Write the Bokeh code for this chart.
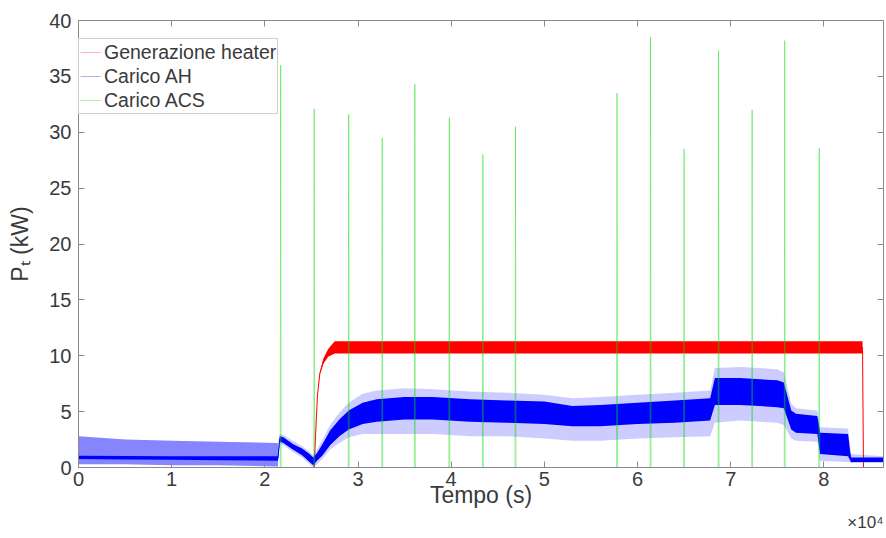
from bokeh.plotting import figure
from bokeh.models import (LinearAxis, FixedTicker, Legend, LegendItem, Title,
                          Range1d, ColumnDataSource, CustomJSTickFormatter)
from bokeh.embed import file_html
from bokeh.resources import INLINE

# ---------------- data ----------------
x_ticks = [0, 10000, 20000, 30000, 40000, 50000, 60000, 70000, 80000]
x_tick_labels = ["0", "1", "2", "3", "4", "5", "6", "7", "8"]
y_ticks = [0, 5, 10, 15, 20, 25, 30, 35, 40]
t_end = 86400

# Generazione heater (red): noise envelope
heater_t = [0, 25150, 25300, 25450, 25650, 25900, 26300, 26800, 27500, 84150, 84250, 86400]
heater_lo = [0, 0, 0, 3.0, 6.5, 8.3, 9.3, 9.9, 10.2, 10.2, 0, 0]
heater_hi = [0, 0, 0, 3.0, 6.5, 8.5, 9.8, 10.6, 11.3, 11.3, 0, 0]

# Carico AH (blue): dense core band and sparse fringe band
ah_t = [0, 5000, 10000, 15000, 21400, 21600, 22000, 23000, 24000, 24800, 25200,
        25600, 26200, 27000, 28000, 29000, 30500, 32000, 35000, 38000, 42000,
        46000, 50000, 53000, 56000, 60000, 64000, 67800, 68300, 71000, 75000,
        75700, 76500, 77000, 79300, 79600, 82600, 82900, 86400]
ah_core_lo = [0.75, 0.72, 0.70, 0.65, 0.60, 2.3, 2.2, 1.6, 1.1, 0.5, 0.2,
              0.6, 1.1, 2.0, 2.8, 3.4, 3.9, 4.1, 4.3, 4.3, 4.1,
              4.0, 3.9, 3.7, 3.7, 3.9, 4.0, 4.2, 5.6, 5.6, 5.4,
              5.3, 3.4, 3.1, 3.0, 1.2, 1.0, 0.5, 0.5]
ah_core_hi = [1.05, 1.02, 1.00, 1.00, 1.00, 2.8, 2.7, 2.1, 1.7, 1.2, 0.9,
              1.3, 2.1, 3.3, 4.3, 5.1, 5.8, 6.1, 6.3, 6.3, 6.1,
              6.0, 5.9, 5.5, 5.6, 5.8, 6.0, 6.2, 8.0, 8.0, 7.8,
              7.6, 5.1, 4.8, 4.6, 3.1, 3.0, 0.9, 0.9]
ah_fringe_lo = [0.3, 0.3, 0.2, 0.2, 0.1, 2.1, 2.0, 1.4, 0.9, 0.3, 0.0,
                0.3, 0.8, 1.6, 2.2, 2.7, 3.0, 3.0, 3.0, 3.0, 2.8,
                2.8, 2.6, 2.4, 2.4, 2.6, 2.7, 2.8, 4.0, 4.2, 4.0,
                3.8, 2.6, 2.4, 2.3, 0.6, 0.5, 0.4, 0.4]
ah_fringe_hi = [2.8, 2.5, 2.4, 2.3, 2.2, 3.0, 2.9, 2.4, 1.9, 1.4, 1.1,
                1.6, 2.5, 3.8, 4.9, 5.8, 6.6, 6.9, 7.1, 7.0, 6.8,
                6.7, 6.5, 6.2, 6.3, 6.5, 6.7, 6.9, 8.9, 9.0, 8.8,
                8.5, 5.7, 5.3, 5.1, 3.6, 3.5, 1.2, 1.0]
ah_dense_end = 21400  # dense ripple before the first draw

# Carico ACS (green): hourly draw peaks
acs_t = [21700, 25300, 29000, 32600, 36100, 39800, 43400, 46900,
         57800, 61400, 65000, 68700, 72300, 75800, 79500]
acs_peak = [36.0, 32.1, 31.6, 29.5, 34.3, 31.3, 28.0, 30.5,
            33.5, 38.5, 28.5, 37.3, 32.0, 38.2, 28.6]

series_names = ["Generazione heater", "Carico AH", "Carico ACS"]

# ---------------- derived series ----------------
heater_mid = [(a + b) / 2 for a, b in zip(heater_lo, heater_hi)]
ah_mid = [(a + b) / 2 for a, b in zip(ah_core_lo, ah_core_hi)]
nd = ah_t.index(ah_dense_end) + 1
acs_x, acs_y = [0], [0]
for t, pk in zip(acs_t, acs_peak):
    acs_x += [t - 50, t, t + 50]
    acs_y += [0, pk, 0]
acs_x.append(t_end)
acs_y.append(0)

FONT = "Liberation Sans"
AX_COL = "#8a8a8a"
TXT_COL = "#3a3a3a"

p = figure(width=886, height=538, x_range=Range1d(0, t_end), y_range=Range1d(0, 40),
           output_backend="svg", toolbar_location=None,
           min_border_left=78, min_border_right=3, min_border_top=20, min_border_bottom=71,
           background_fill_color="white", border_fill_color="white")
p.grid.visible = False
p.outline_line_color = None

# red heater
p.varea(x=heater_t, y1=heater_lo, y2=heater_hi, fill_color="#ff0000")
p.line(heater_t, heater_mid, line_color="#ff0000", line_width=1)
# blue AH
p.varea(x=ah_t, y1=ah_fringe_lo, y2=ah_fringe_hi, fill_color="#0000ff", fill_alpha=0.2)
p.varea(x=ah_t[:nd], y1=ah_fringe_lo[:nd], y2=ah_fringe_hi[:nd], fill_color="#0000ff", fill_alpha=0.35)
p.varea(x=ah_t, y1=ah_core_lo, y2=ah_core_hi, fill_color="#0000ff")
p.line(ah_t, ah_mid, line_color="#0000ff", line_width=1)
# green ACS
p.line(acs_x, acs_y, line_color="#00dd00", line_alpha=0.4, line_width=1)

# legend proxies (one hidden point each, so the legend sample is drawn)
leg_cols = ["#ff0000", "#0000ff", "#00cc00"]
items = []
for name, col in zip(series_names, leg_cols):
    src = ColumnDataSource(dict(x=[float("nan")], y=[float("nan")]))
    r = p.line("x", "y", source=src, line_color=col, line_alpha=0.3, line_width=1)
    items.append(LegendItem(label=name, renderers=[r]))
legend = Legend(items=items, location=(0, 353), orientation="vertical",
                label_text_font=FONT, label_text_font_size="19.5px", label_text_color=TXT_COL,
                glyph_width=21, glyph_height=24, label_height=24, label_standoff=3,
                spacing=0, padding=1, margin=0,
                border_line_color="#a0a0a0", border_line_width=1,
                background_fill_color="white", background_fill_alpha=1)
p.add_layout(legend, "center")

# axes
def style_axis(ax, ticks, overrides=None, show_labels=True):
    ax.ticker = FixedTicker(ticks=ticks)
    ax.minor_tick_line_color = None
    ax.major_tick_in = 6
    ax.major_tick_out = 0
    ax.axis_line_color = AX_COL
    ax.major_tick_line_color = AX_COL
    ax.axis_line_width = 1
    if show_labels:
        ax.major_label_text_font = FONT
        ax.major_label_text_font_size = "20px"
        ax.major_label_text_color = TXT_COL
        if overrides:
            ax.major_label_overrides = overrides
    else:
        ax.formatter = CustomJSTickFormatter(code="return '';")
        ax.major_label_text_font_size = "1px"
        ax.major_label_standoff = 0

xo = {t: s for t, s in zip(x_ticks, x_tick_labels)}
xax = p.xaxis[0]
yax = p.yaxis[0]
style_axis(xax, x_ticks, xo)
style_axis(yax, y_ticks)
xax.major_label_standoff = 4
yax.major_label_standoff = 7
xax.axis_label = "Tempo (s)"
yax.axis_label = "P\u209c (kW)"
for ax in (xax, yax):
    ax.axis_label_text_font = FONT
    ax.axis_label_text_font_size = "23px"
    ax.axis_label_text_font_style = "normal"
    ax.axis_label_text_color = TXT_COL
xax.axis_label_standoff = -7
yax.axis_label_standoff = 13

top_ax = LinearAxis()
right_ax = LinearAxis()
style_axis(top_ax, x_ticks, show_labels=False)
style_axis(right_ax, y_ticks, show_labels=False)
p.add_layout(top_ax, "above")
p.add_layout(right_ax, "right")

p.add_layout(Title(text="\u00d710\u2074", align="right", text_font=FONT, text_font_size="17px",
                   text_font_style="normal", text_color=TXT_COL, standoff=0, offset=0), "below")

open("out.html", "w").write(file_html(p, INLINE))
